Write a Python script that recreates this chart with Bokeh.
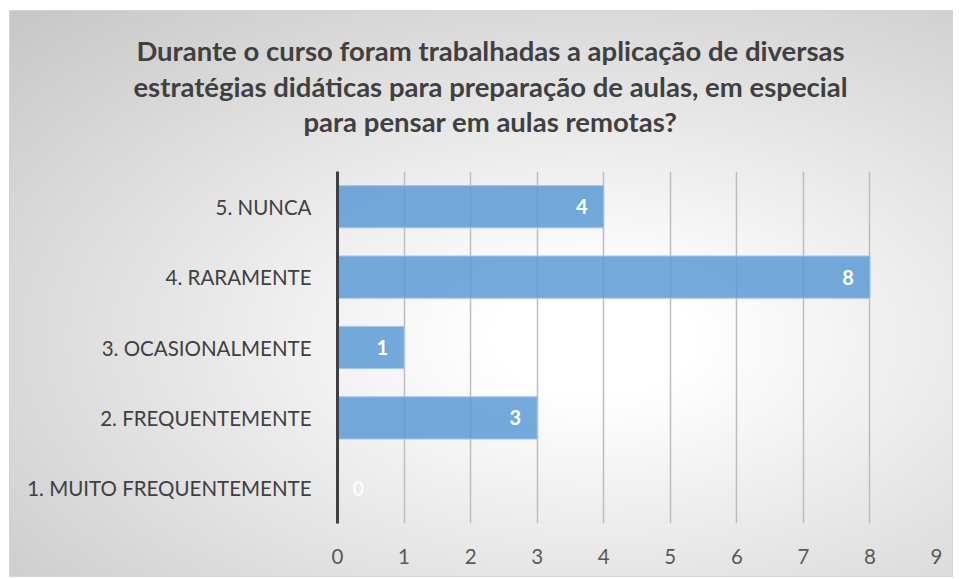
from bokeh.plotting import figure
from bokeh.models import ColumnDataSource, FactorRange, Range1d
from bokeh.core.properties import value
from bokeh.embed import file_html
from bokeh.resources import INLINE

categories = ["1. MUITO FREQUENTEMENTE", "2. FREQUENTEMENTE", "3. OCASIONALMENTE",
              "4. RARAMENTE", "5. NUNCA"]
counts = [0, 3, 1, 8, 4]
x_ticks = [0, 1, 2, 3, 4, 5, 6, 7, 8, 9]
title_lines = ["Durante o curso foram trabalhadas a aplicação de diversas",
               "estratégias didáticas para preparação de aulas, em especial",
               "para pensar em aulas remotas?"]

FONT = "Lato"
W = 944
H = 567
TH = 162

# ---- bar chart (carries the background) ----
p = figure(width=W, height=H, output_backend="svg", toolbar_location=None,
           y_range=FactorRange(factors=categories, range_padding=0),
           x_range=Range1d(0, 9),
           min_border_left=327, min_border_right=18, min_border_top=160, min_border_bottom=55)
p.styles = {"background-image": "radial-gradient(ellipse farthest-corner at 62% 58%, #ffffff 0%, #ffffff 12%, #c6c6c6 100%)",
            "border": "1px solid #d4d4d4", "box-sizing": "border-box",
            "margin-left": "9px", "margin-top": "10px"}
p.border_fill_color = None
p.background_fill_color = None
p.outline_line_color = None

src = ColumnDataSource(dict(cat=categories, val=counts))
p.hbar(y="cat", right="val", left=0, height=0.6, source=src,
       fill_color="#5b9bd5", fill_alpha=0.85, line_color="#a4c6ea", line_width=1)

nz = [i for i, v in enumerate(counts) if v > 0]
zz = [i for i, v in enumerate(counts) if v == 0]
src_nz = ColumnDataSource(dict(cat=[categories[i] for i in nz], val=[counts[i] for i in nz],
                               lab=[str(counts[i]) for i in nz]))
src_z = ColumnDataSource(dict(cat=[categories[i] for i in zz], val=[counts[i] for i in zz],
                              lab=[str(counts[i]) for i in zz]))
p.text(x="val", y="cat", text="lab", source=src_nz, text_align="right", text_baseline="middle",
       x_offset=-16, text_color="white", text_font=value(FONT), text_font_style="bold",
       text_font_size="20px")
p.text(x="val", y="cat", text="lab", source=src_z, text_align="left", text_baseline="middle",
       x_offset=15, text_color="white", text_font=value(FONT), text_font_style="bold",
       text_font_size="20px", text_alpha=0.8)

p.xaxis.ticker = x_ticks
p.xaxis.axis_line_color = None
p.xaxis.major_tick_line_color = None
p.xaxis.minor_tick_line_color = None
p.xaxis.major_label_text_font = FONT
p.xaxis.major_label_text_font_size = "20.5px"
p.xaxis.major_label_text_color = "#595959"
p.xaxis.major_label_standoff = 19

p.yaxis.axis_line_color = "#404040"
p.yaxis.axis_line_width = 3
p.yaxis.major_tick_line_color = None
p.yaxis.minor_tick_line_color = None
p.yaxis.major_label_text_font = FONT
p.yaxis.major_label_text_font_size = "20.5px"
p.yaxis.major_label_text_color = "#404040"
p.yaxis.major_label_standoff = 20

p.xgrid.grid_line_color = "#bdbdbd"
p.xgrid.grid_line_width = 1.5
p.ygrid.grid_line_color = None

# ---- title overlay figure (transparent, placed over the top of the chart) ----
t = figure(width=W, height=TH, output_backend="svg", toolbar_location=None,
           x_range=Range1d(0, W), y_range=Range1d(TH, 0),
           x_axis_type=None, y_axis_type=None,
           min_border_left=0, min_border_right=0, min_border_top=0, min_border_bottom=0)
t.styles = {"position": "absolute", "left": "9px", "top": "10px"}
t.border_fill_color = None
t.background_fill_color = None
t.outline_line_color = None
t.xgrid.visible = False
t.ygrid.visible = False
tsrc = ColumnDataSource(dict(x=[481] * len(title_lines),
                             y=[40 + 35.5 * i for i in range(len(title_lines))],
                             txt=title_lines))
t.text(x="x", y="y", text="txt", source=tsrc, text_align="center", text_baseline="middle",
       text_font=value(FONT), text_font_style="bold", text_font_size="27.5px",
       text_color="#404040")

open("out.html", "w").write(file_html([p, t], INLINE))
